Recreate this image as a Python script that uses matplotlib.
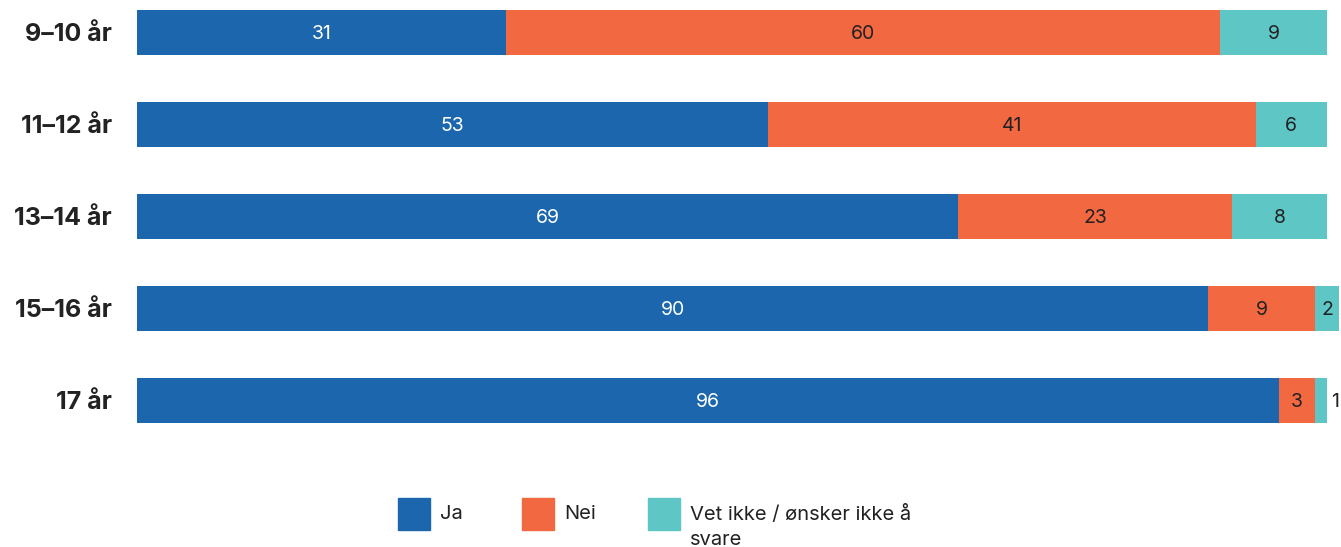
import matplotlib.pyplot as plt
from matplotlib.patches import Rectangle

plt.rcParams['font.family'] = ['Inter', 'DejaVu Sans']

# andel (%) per aldersgruppe
groups = ['9–10 år', '11–12 år', '13–14 år', '15–16 år', '17 år']
ja = [31, 53, 69, 90, 96]
nei = [60, 41, 23, 9, 3]
vet_ikke = [9, 6, 8, 2, 1]
series_names = ['Ja', 'Nei', 'Vet ikke / ønsker ikke å\nsvare']

colors = ['#1c66ad', '#f26841', '#5ec6c5']
text_colors = ['white', '#222222', '#222222']

W, H = 1341, 547
fig = plt.figure(figsize=(W / 100, H / 100), dpi=100)
ax = fig.add_axes([137 / W, (H - 440) / H, 1190 / W, 440 / H])

bar_h = 45 / 92
left = [0] * len(groups)
for vals, c, tc in zip([ja, nei, vet_ikke], colors, text_colors):
    bars = ax.barh(range(len(groups)), vals, left=left, height=bar_h,
                   color=c, clip_on=False)
    for i, (b, v) in enumerate(zip(bars, vals)):
        y = b.get_y() + b.get_height() / 2
        if v < 2:
            ax.text(b.get_x() + b.get_width() + 0.35, y, str(v), ha='left',
                    va='center_baseline', fontsize=14, color='#222222',
                    clip_on=False)
        else:
            ax.text(b.get_x() + b.get_width() / 2, y, str(v), ha='center',
                    va='center_baseline', fontsize=14, color=tc, clip_on=False)
    left = [l + v for l, v in zip(left, vals)]

ax.set_xlim(0, 100)
ax.set_ylim(4.43, -0.353)
ax.set_xticks([])
ax.set_yticks(range(len(groups)))
ax.set_yticklabels(groups, fontsize=18, fontweight='bold', color='#222222',
                   va='center_baseline')
ax.tick_params(axis='y', length=0, pad=18)
for s in ax.spines.values():
    s.set_visible(False)

# legend drawn by hand in figure pixels
for x0, name, c in zip([398, 522, 648], series_names, colors):
    fig.patches.append(Rectangle((x0 / W, (H - 530) / H), 32 / W, 32 / H,
                                 transform=fig.transFigure, color=c))
    fig.text((x0 + 42) / W, (H - 505) / H, name, ha='left', va='top',
             fontsize=14.5, color='#222222', linespacing=1.5)

fig.savefig('out.png', dpi=100)
